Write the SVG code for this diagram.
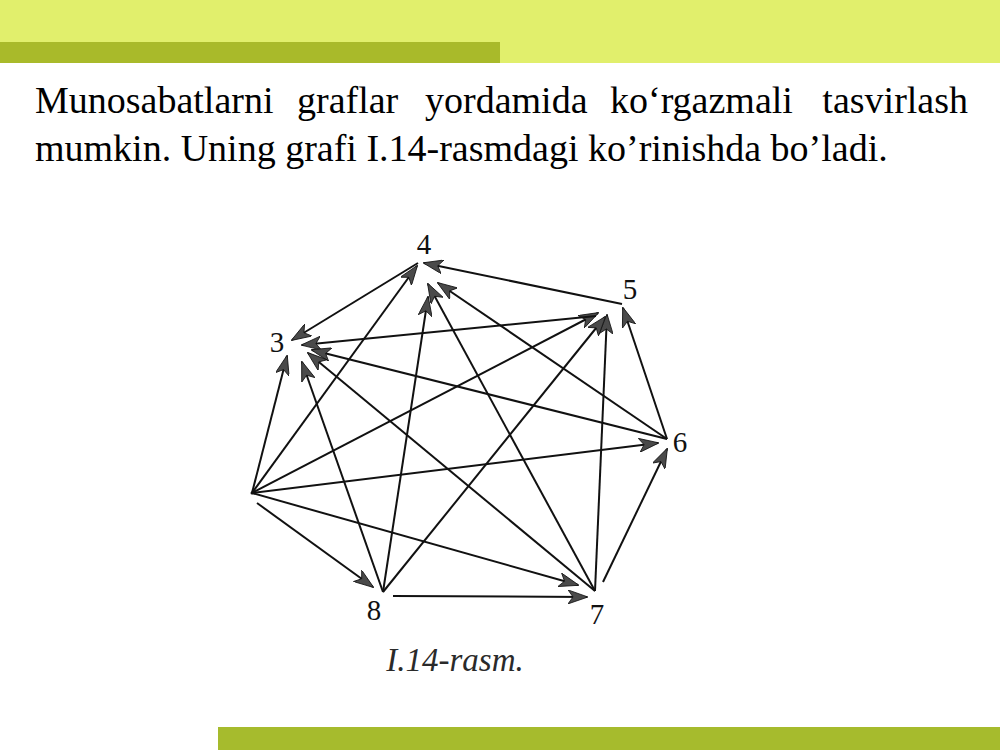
<svg xmlns="http://www.w3.org/2000/svg" width="1000" height="750" viewBox="0 0 1000 750">
  <defs>
    <marker id="arr" viewBox="0 0 20 14" refX="19" refY="7" markerWidth="20" markerHeight="14" markerUnits="userSpaceOnUse" orient="auto">
      <path d="M0,0 L20,7 L0,14 L5,7 Z" fill="#4a4a4a" stroke="#111" stroke-width="0.8"/>
    </marker>
    <style>
      .edge { stroke: #111; stroke-width: 2; fill: none; }
      .arrow { marker-end: url(#arr); }
      .lbl { font-family: 'Liberation Serif', 'Tinos', 'Times New Roman', 'DejaVu Serif', serif; font-size: 29px; fill: #111; text-anchor: middle; }
      .para { font-family: 'Liberation Serif', 'Tinos', 'Times New Roman', 'DejaVu Serif', serif; font-size: 38px; fill: #000; }
      .cap { font-family: 'Liberation Serif', 'Tinos', 'Times New Roman', 'DejaVu Serif', serif; font-size: 33px; font-style: italic; fill: #2a2a2a; text-anchor: middle; }
    </style>
  </defs>

  <!-- background decoration -->
  <rect x="0" y="0" width="1000" height="750" fill="#ffffff"/>
  <rect x="0" y="0" width="1000" height="63" fill="#e1ef6c"/>
  <rect x="0" y="42" width="500" height="21" fill="#a9ba2a"/>
  <rect x="218" y="727" width="782" height="23" fill="#a6bb2d"/>

  <!-- paragraph -->
  <g id="paragraph">
    <text class="para" y="113"><tspan x="35">Munosabatlarni</tspan><tspan x="297">graflar</tspan><tspan x="425">yordamida</tspan><tspan x="610">ko‘rgazmali</tspan></text>
    <text class="para" x="968" y="113" text-anchor="end">tasvirlash</text>
    <text class="para" x="35" y="161">mumkin. Uning grafi I.14-rasmdagi ko’rinishda bo’ladi.</text>
  </g>

  <!-- connectors -->
  <g id="edges">
    <line class="edge arrow" x1="252" y1="493" x2="287" y2="356"/>
    <line class="edge arrow" x1="252" y1="493" x2="417" y2="266"/>
    <line class="edge arrow" x1="252" y1="493" x2="598" y2="313"/>
    <line class="edge arrow" x1="252" y1="493" x2="658" y2="443"/>
    <line class="edge arrow" x1="252" y1="493" x2="578" y2="585"/>
    <line class="edge arrow" x1="257" y1="503" x2="373" y2="587"/>
    <line class="edge arrow" x1="418" y1="263" x2="292" y2="340"/>
    <line class="edge arrow" x1="622" y1="304" x2="424" y2="263"/>
    <line class="edge arrow" x1="596" y1="316" x2="302" y2="345"/>
    <line class="edge arrow" x1="667" y1="439" x2="312" y2="350"/>
    <line class="edge arrow" x1="667" y1="439" x2="438" y2="283"/>
    <line class="edge arrow" x1="667" y1="439" x2="623" y2="308"/>
    <line class="edge arrow" x1="595" y1="591" x2="308" y2="353"/>
    <line class="edge arrow" x1="595" y1="591" x2="428" y2="284"/>
    <line class="edge arrow" x1="595" y1="591" x2="607" y2="315"/>
    <line class="edge arrow" x1="603" y1="582" x2="667" y2="449"/>
    <line class="edge arrow" x1="383" y1="592" x2="302" y2="362"/>
    <line class="edge arrow" x1="383" y1="592" x2="428" y2="297"/>
    <line class="edge arrow" x1="383" y1="592" x2="605" y2="317"/>
    <line class="edge arrow" x1="393" y1="596" x2="587" y2="597"/>
  </g>

  <!-- nodes -->
  <g id="node-1"><circle cx="252" cy="493" r="1.5" fill="#111"/></g>
  <g id="node-3"><text class="lbl" x="277" y="352">3</text></g>
  <g id="node-4"><text class="lbl" x="424" y="254">4</text></g>
  <g id="node-5"><text class="lbl" x="630" y="299">5</text></g>
  <g id="node-6"><text class="lbl" x="680" y="452">6</text></g>
  <g id="node-7"><text class="lbl" x="597" y="624">7</text></g>
  <g id="node-8"><text class="lbl" x="374" y="620">8</text></g>

  <text class="cap" x="455" y="671">I.14-rasm.</text>
</svg>
